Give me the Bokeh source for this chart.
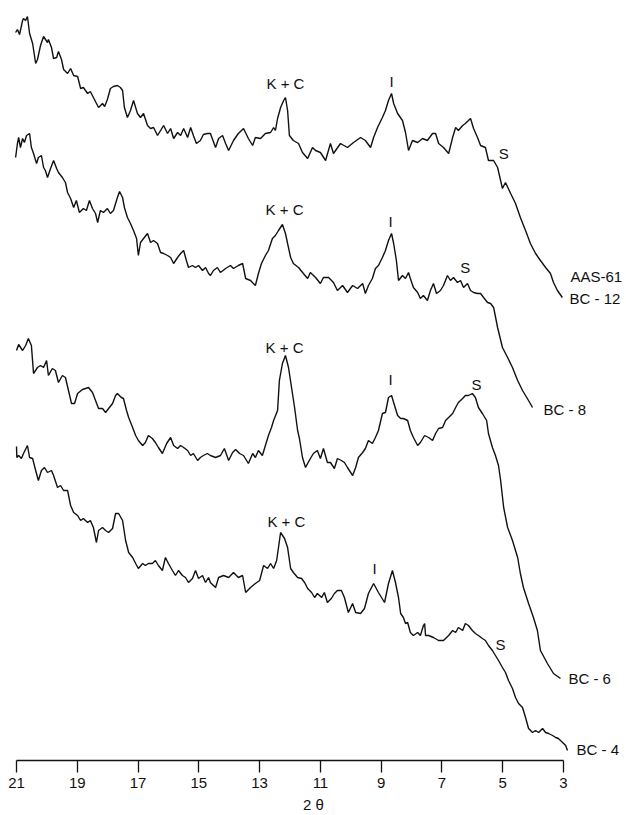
from bokeh.plotting import figure
from bokeh.models import Range1d, FixedTicker, ColumnDataSource
from bokeh.embed import file_html
from bokeh.resources import INLINE
from bokeh.core.properties import value

# ---- data: 2-theta (deg) and relative intensity (stacked, arbitrary units) ----
aas61_tt = [21.03, 20.97, 20.90, 20.80, 20.77, 20.70, 20.64, 20.57, 20.47, 20.37, 20.31, 20.21, 20.11, 19.98, 19.95,
            19.85, 19.78, 19.68, 19.62, 19.52, 19.45, 19.32, 19.22, 19.12, 18.99, 18.89, 18.80, 18.66, 18.57, 18.47,
            18.30, 18.17, 18.10, 18.01, 17.91, 17.81, 17.68, 17.58, 17.51, 17.45, 17.35, 17.25, 17.15, 17.02, 16.92,
            16.82, 16.69, 16.59, 16.49, 16.36, 16.26, 16.16, 16.03, 15.93, 15.83, 15.70, 15.60, 15.50, 15.37, 15.27,
            15.18, 15.08, 14.95, 14.85, 14.72, 14.62, 14.45, 14.35, 14.22, 14.12, 14.02, 13.86, 13.70, 13.53, 13.37,
            13.23, 13.14, 12.97, 12.81, 12.64, 12.54, 12.48, 12.41, 12.31, 12.21, 12.15, 12.08, 12.02, 11.89, 11.72,
            11.59, 11.42, 11.26, 11.16, 11.00, 10.83, 10.67, 10.57, 10.34, 10.11, 9.91, 9.68, 9.52, 9.35, 9.25,
            9.12, 8.96, 8.86, 8.76, 8.66, 8.59, 8.46, 8.30, 8.20, 8.10, 7.97, 7.80, 7.64, 7.48, 7.31,
            7.21, 7.11, 6.95, 6.78, 6.65, 6.55, 6.46, 6.32, 6.23, 6.06, 5.96, 5.83, 5.73, 5.57, 5.47,
            5.30, 5.17, 5.01, 4.91, 4.74, 4.58, 4.42, 4.25, 4.09, 3.92, 3.76, 3.59, 3.43, 3.33, 3.20, 3.04]
aas61_int = [728, 731, 726, 740, 742, 740, 744, 727, 717, 697, 701, 715, 724, 718, 721,
             713, 702, 703, 709, 701, 691, 687, 692, 685, 684, 672, 673, 667, 669, 663,
             653, 657, 654, 661, 672, 674, 675, 673, 670, 653, 643, 650, 660, 647, 643,
             647, 635, 632, 633, 625, 630, 635, 627, 632, 622, 628, 625, 632, 623, 633,
             625, 617, 620, 626, 627, 627, 613, 622, 625, 617, 610, 620, 627, 632, 622,
             615, 623, 622, 627, 628, 633, 630, 642, 653, 660, 663, 650, 625, 620, 617,
             608, 602, 613, 610, 608, 600, 617, 607, 617, 613, 618, 623, 620, 613, 623,
             633, 643, 650, 660, 667, 657, 647, 640, 628, 610, 620, 618, 622, 620, 627,
             627, 617, 613, 607, 623, 633, 630, 635, 637, 642, 632, 623, 615, 613, 600,
             600, 593, 572, 578, 567, 557, 543, 530, 517, 507, 500, 493, 487, 478, 470, 463]

bc8_tt = [21.03, 20.97, 20.93, 20.87, 20.80, 20.74, 20.67, 20.57, 20.51, 20.44, 20.34, 20.28, 20.18, 20.11, 20.05,
          19.98, 19.88, 19.78, 19.68, 19.62, 19.49, 19.39, 19.32, 19.22, 19.12, 19.03, 18.93, 18.80, 18.70, 18.60,
          18.50, 18.40, 18.33, 18.24, 18.14, 18.01, 17.91, 17.81, 17.68, 17.61, 17.51, 17.45, 17.35, 17.25, 17.15,
          17.05, 16.99, 16.92, 16.82, 16.69, 16.59, 16.49, 16.36, 16.26, 16.16, 16.03, 15.93, 15.83, 15.70, 15.60,
          15.50, 15.41, 15.34, 15.21, 15.11, 15.01, 14.88, 14.78, 14.68, 14.62, 14.52, 14.39, 14.29, 14.12, 13.96,
          13.86, 13.70, 13.56, 13.46, 13.30, 13.14, 13.04, 12.94, 12.81, 12.71, 12.58, 12.48, 12.38, 12.25, 12.15,
          12.08, 11.98, 11.89, 11.72, 11.56, 11.42, 11.33, 11.16, 11.00, 10.90, 10.73, 10.57, 10.44, 10.27, 10.11,
          9.94, 9.78, 9.61, 9.52, 9.42, 9.29, 9.19, 9.09, 8.96, 8.86, 8.76, 8.66, 8.59, 8.50, 8.43,
          8.30, 8.20, 8.10, 8.04, 7.94, 7.80, 7.71, 7.61, 7.48, 7.38, 7.28, 7.18, 7.05, 6.95, 6.82,
          6.72, 6.62, 6.49, 6.39, 6.29, 6.16, 6.06, 5.96, 5.83, 5.73, 5.63, 5.50, 5.40, 5.30, 5.17,
          5.01, 4.84, 4.68, 4.51, 4.35, 4.19, 4.02]
bc8_int = [603, 617, 623, 613, 622, 618, 625, 627, 613, 607, 597, 603, 605, 593, 590,
           583, 592, 600, 592, 588, 583, 578, 568, 562, 553, 560, 548, 552, 550, 560,
           552, 547, 538, 550, 548, 552, 547, 550, 563, 569, 563, 553, 543, 537, 530,
           522, 505, 518, 522, 527, 518, 520, 517, 508, 507, 505, 503, 497, 503, 507,
           510, 500, 493, 495, 493, 495, 490, 493, 487, 485, 490, 493, 488, 492, 495,
           492, 495, 497, 482, 480, 475, 487, 497, 505, 510, 522, 525, 530, 536, 527,
           517, 503, 497, 493, 487, 482, 488, 483, 477, 483, 483, 478, 470, 475, 468,
           475, 472, 477, 467, 475, 482, 492, 495, 503, 510, 520, 527, 517, 500, 480,
           485, 482, 488, 482, 473, 468, 462, 465, 460, 470, 477, 467, 470, 475, 485,
           480, 483, 478, 480, 473, 477, 470, 468, 467, 467, 463, 458, 457, 453, 433,
           413, 403, 393, 380, 370, 362, 353]

bc6_tt = [21.00, 20.93, 20.80, 20.70, 20.61, 20.51, 20.44, 20.31, 20.21, 20.11, 20.01, 19.95, 19.82, 19.72, 19.62,
          19.49, 19.39, 19.29, 19.19, 19.09, 18.99, 18.83, 18.73, 18.63, 18.50, 18.40, 18.30, 18.17, 18.07, 17.97,
          17.84, 17.74, 17.68, 17.55, 17.48, 17.38, 17.31, 17.18, 17.08, 16.99, 16.85, 16.76, 16.66, 16.53, 16.43,
          16.33, 16.20, 16.06, 15.93, 15.83, 15.70, 15.60, 15.50, 15.37, 15.27, 15.18, 15.04, 14.95, 14.85, 14.72,
          14.62, 14.45, 14.29, 14.16, 14.02, 13.89, 13.79, 13.66, 13.53, 13.37, 13.23, 13.14, 13.04, 12.91, 12.81,
          12.71, 12.61, 12.54, 12.41, 12.35, 12.25, 12.15, 12.05, 11.95, 11.85, 11.75, 11.69, 11.59, 11.49, 11.42,
          11.33, 11.23, 11.10, 11.00, 10.90, 10.77, 10.67, 10.54, 10.44, 10.31, 10.21, 10.11, 9.94, 9.84, 9.75,
          9.61, 9.52, 9.42, 9.29, 9.19, 9.09, 8.96, 8.86, 8.76, 8.66, 8.59, 8.46, 8.36, 8.27, 8.13,
          8.04, 7.94, 7.80, 7.71, 7.57, 7.44, 7.31, 7.21, 7.11, 6.98, 6.88, 6.78, 6.65, 6.55, 6.46,
          6.32, 6.23, 6.13, 6.00, 5.90, 5.80, 5.67, 5.53, 5.47, 5.34, 5.24, 5.14, 5.07, 4.97, 4.84,
          4.68, 4.51, 4.42, 4.32, 4.15, 3.99, 3.86, 3.76, 3.53, 3.33, 3.10]
bc6_int = [410, 416, 410, 415, 422, 415, 387, 393, 395, 393, 400, 385, 392, 390, 378,
           385, 383, 370, 357, 357, 367, 371, 372, 373, 368, 360, 352, 352, 348, 352,
           357, 365, 367, 363, 362, 350, 343, 333, 325, 320, 315, 318, 325, 322, 318,
           313, 307, 317, 323, 315, 312, 315, 313, 310, 305, 307, 300, 303, 305, 307,
           305, 303, 305, 312, 300, 308, 311, 307, 305, 297, 307, 303, 310, 305, 315,
           325, 333, 340, 350, 380, 397, 405, 393, 373, 353, 330, 322, 303, 293, 297,
           302, 307, 310, 302, 312, 298, 298, 292, 302, 300, 298, 293, 285, 293, 303,
           308, 312, 320, 317, 323, 330, 347, 348, 363, 365, 358, 345, 342, 342, 340,
           330, 323, 315, 318, 325, 323, 320, 327, 332, 333, 340, 343, 347, 353, 358,
           362, 365, 365, 367, 363, 353, 347, 340, 327, 313, 305, 295, 280, 253, 233,
           220, 203, 187, 173, 157, 143, 130, 110, 97, 87, 82]

bc4_tt = [21.00, 20.99, 20.93, 20.84, 20.77, 20.64, 20.57, 20.47, 20.37, 20.28, 20.18, 20.08, 19.98, 19.85, 19.78,
          19.65, 19.55, 19.45, 19.32, 19.22, 19.12, 18.99, 18.89, 18.80, 18.66, 18.57, 18.47, 18.37, 18.30, 18.17,
          18.07, 17.97, 17.84, 17.74, 17.64, 17.51, 17.41, 17.31, 17.18, 17.08, 16.99, 16.85, 16.76, 16.66, 16.53,
          16.43, 16.33, 16.20, 16.10, 16.00, 15.87, 15.77, 15.67, 15.54, 15.44, 15.34, 15.21, 15.11, 15.01, 14.88,
          14.78, 14.68, 14.62, 14.45, 14.35, 14.19, 14.02, 13.86, 13.70, 13.56, 13.46, 13.30, 13.14, 13.00, 12.87,
          12.74, 12.64, 12.54, 12.44, 12.31, 12.18, 12.08, 11.98, 11.89, 11.75, 11.62, 11.52, 11.42, 11.29, 11.19,
          11.10, 10.96, 10.87, 10.77, 10.64, 10.54, 10.44, 10.31, 10.21, 10.08, 9.94, 9.84, 9.68, 9.55, 9.42,
          9.25, 9.09, 8.89, 8.76, 8.63, 8.53, 8.43, 8.36, 8.27, 8.20, 8.13, 8.04, 7.94, 7.80, 7.71,
          7.61, 7.57, 7.54, 7.44, 7.28, 7.11, 6.95, 6.78, 6.65, 6.55, 6.46, 6.32, 6.23, 6.13, 6.00,
          5.90, 5.80, 5.67, 5.57, 5.47, 5.34, 5.24, 5.14, 5.01, 4.91, 4.81, 4.68, 4.58, 4.48, 4.35,
          4.25, 4.15, 4.02, 3.92, 3.82, 3.69, 3.59, 3.49, 3.36, 3.26, 3.17, 3.03, 2.93, 2.87]
bc4_int = [314, 303, 305, 302, 307, 315, 303, 302, 290, 280, 290, 293, 288, 290, 285,
           273, 275, 270, 270, 255, 248, 245, 240, 242, 238, 240, 233, 218, 230, 233,
           230, 228, 232, 247, 247, 240, 220, 208, 203, 197, 192, 197, 195, 197, 197,
           200, 195, 190, 203, 197, 190, 185, 190, 185, 183, 178, 182, 190, 182, 185,
           178, 183, 178, 173, 183, 185, 183, 188, 183, 185, 168, 173, 177, 180, 195,
           192, 197, 192, 200, 228, 222, 213, 192, 188, 183, 182, 178, 172, 168, 163,
           167, 163, 168, 158, 162, 167, 170, 170, 163, 148, 157, 148, 147, 152, 167,
           177, 168, 158, 177, 190, 178, 163, 147, 143, 137, 138, 128, 125, 128, 125,
           135, 137, 125, 125, 123, 120, 120, 125, 130, 128, 133, 130, 137, 135, 130,
           127, 125, 122, 120, 115, 110, 105, 100, 93, 88, 80, 72, 63, 57, 53,
           43, 32, 28, 30, 28, 32, 28, 27, 25, 23, 22, 18, 15, 10]

# peak annotations: (text, 2-theta, level)
peak_text = ["K + C", "I", "S", "K + C", "I", "S", "K + C", "I", "S", "K + C", "I", "S"]
peak_tt = [12.15, 8.66, 4.97, 12.18, 8.69, 6.23, 12.18, 8.69, 5.86, 12.12, 9.22, 5.07]
peak_lvl = [677, 679, 607, 551, 539, 493, 413, 381, 376, 239, 192, 116]

# sample names: (text, 2-theta at left edge, level)
name_text = ["AAS-61", "BC - 12", "BC - 8", "BC - 6", "BC - 4"]
name_tt = [2.77, 2.80, 3.66, 2.84, 2.57]
name_lvl = [484, 462, 351, 82, 11]

tick_vals = [21, 19, 17, 15, 13, 11, 9, 7, 5, 3]

FONT = "Liberation Sans"

p = figure(width=626, height=815, output_backend="svg", toolbar_location=None,
           x_range=Range1d(21.527, 0.928), y_range=Range1d(0, 760),
           y_axis_location=None, min_border_left=0, min_border_right=0,
           min_border_top=0, min_border_bottom=55)
p.grid.visible = False
p.outline_line_color = None
p.background_fill_color = "white"
p.border_fill_color = "white"

for tt, it in [(aas61_tt, aas61_int), (bc8_tt, bc8_int), (bc6_tt, bc6_int), (bc4_tt, bc4_int)]:
    p.line(tt, it, line_color="#111111", line_width=1.4)

src_p = ColumnDataSource(dict(x=peak_tt, y=peak_lvl, t=peak_text))
p.text(x="x", y="y", text="t", source=src_p, text_align="center", text_baseline="middle",
       text_font=value(FONT), text_font_size="15px", text_color="#111111")

src_n = ColumnDataSource(dict(x=name_tt, y=name_lvl, t=name_text))
p.text(x="x", y="y", text="t", source=src_n, text_align="left", text_baseline="middle",
       text_font=value(FONT), text_font_size="15px", text_color="#111111")

ax = p.xaxis[0]
ax.ticker = FixedTicker(ticks=tick_vals)
ax.bounds = (3, 21)
ax.minor_tick_line_color = None
ax.major_tick_in = 0
ax.major_tick_out = 12
ax.major_tick_line_color = "#111111"
ax.major_tick_line_width = 1.3
ax.axis_line_color = "#111111"
ax.axis_line_width = 1.3
ax.major_label_standoff = 5
ax.major_label_text_font = FONT
ax.major_label_text_font_size = "15px"
ax.major_label_text_color = "#111111"
ax.axis_label = "2 θ"
ax.axis_label_standoff = 5
ax.axis_label_text_font = FONT
ax.axis_label_text_font_size = "15px"
ax.axis_label_text_font_style = "normal"
ax.axis_label_text_color = "#111111"

open("out.html", "w").write(file_html(p, INLINE))
